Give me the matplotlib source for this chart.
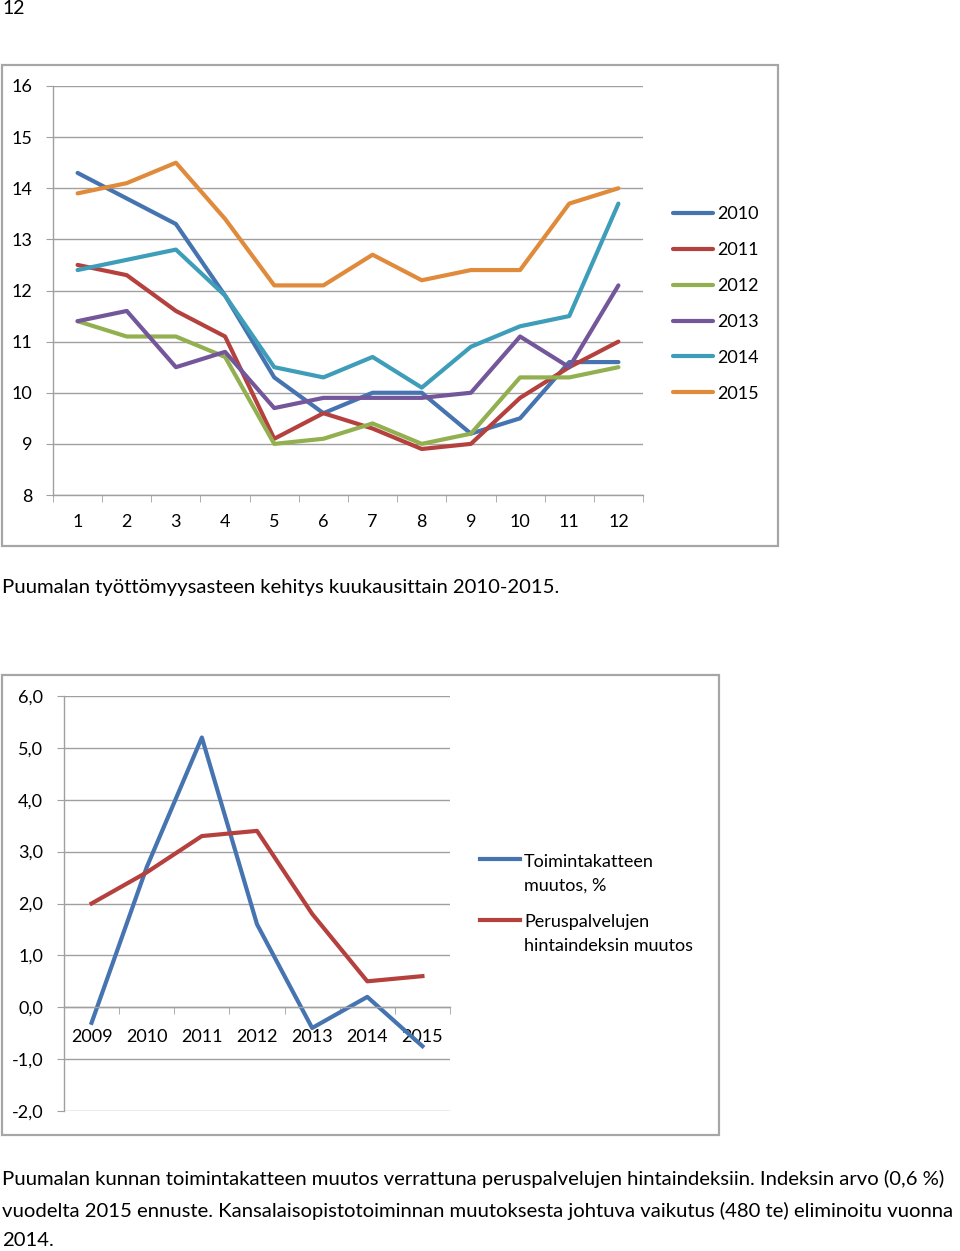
import matplotlib
matplotlib.use("Agg")
import matplotlib.pyplot as plt
from matplotlib.patches import Rectangle

# ── data ────────────────────────────────────────────────────────────
MONTHS = list(range(1, 13))
Y2010 = [14.3, 13.8, 13.3, 11.9, 10.3, 9.6, 10.0, 10.0, 9.2, 9.5, 10.6, 10.6]
Y2011 = [12.5, 12.3, 11.6, 11.1, 9.1, 9.6, 9.3, 8.9, 9.0, 9.9, 10.5, 11.0]
Y2012 = [11.4, 11.1, 11.1, 10.7, 9.0, 9.1, 9.4, 9.0, 9.2, 10.3, 10.3, 10.5]
Y2013 = [11.4, 11.6, 10.5, 10.8, 9.7, 9.9, 9.9, 9.9, 10.0, 11.1, 10.5, 12.1]
Y2014 = [12.4, 12.6, 12.8, 11.9, 10.5, 10.3, 10.7, 10.1, 10.9, 11.3, 11.5, 13.7]
Y2015 = [13.9, 14.1, 14.5, 13.4, 12.1, 12.1, 12.7, 12.2, 12.4, 12.4, 13.7, 14.0]
SERIES_LABELS = ["2010", "2011", "2012", "2013", "2014", "2015"]

YEARS = [2009, 2010, 2011, 2012, 2013, 2014, 2015]
TOIMINTAKATE = [-0.3, 2.7, 5.2, 1.6, -0.4, 0.2, -0.75]
HINTAINDEKSI = [2.0, 2.6, 3.3, 3.4, 1.8, 0.5, 0.6]

COLOURS = ["#4674B1", "#B5413E", "#92B050", "#73579A", "#3E9DB8", "#E08A3C"]
GRID = "#A0A0A0"
FRAME = "#A6A6A6"

W, H = 960, 1251
FONT = "Lato"
plt.rcParams["font.family"] = [FONT, "DejaVu Sans"]
TICK_FS = 13
CAP_FS = 14.6


def box(left, top, right, bottom):
    """pixel box -> figure fraction rect"""
    return [left / W, 1 - bottom / H, (right - left) / W, (bottom - top) / H]


def frame(fig, left, top, right, bottom):
    fig.patches.append(Rectangle((left / W, 1 - bottom / H), (right - left) / W,
                                 (bottom - top) / H, transform=fig.transFigure,
                                 fill=False, edgecolor=FRAME, lw=1.6))


def style_axes(ax):
    ax.tick_params(axis="x", which="major", length=0, labelsize=TICK_FS)
    ax.tick_params(axis="x", which="minor", length=5, color=GRID, direction="out")
    ax.tick_params(axis="y", length=5, color=GRID, pad=10, labelsize=TICK_FS)
    ax.grid(axis="y", color=GRID, lw=1)
    ax.set_axisbelow(True)
    for s in ["top", "right"]:
        ax.spines[s].set_visible(False)
    for s in ["left", "bottom"]:
        ax.spines[s].set_color(GRID)
        ax.spines[s].set_linewidth(1)


fig = plt.figure(figsize=(W / 100, H / 100), dpi=100, facecolor="white")

fig.text(2 / W, 1 - 9 / H, "12", fontsize=14, ha="left", va="center")

# ── chart 1 ─────────────────────────────────────────────────────────
frame(fig, 2, 65, 778, 546)
ax1 = fig.add_axes(box(53, 86, 643, 495))
for vals, lab, col in zip([Y2010, Y2011, Y2012, Y2013, Y2014, Y2015],
                          SERIES_LABELS, COLOURS):
    ax1.plot(MONTHS, vals, color=col, lw=3.0, label=lab, solid_capstyle="round")
ax1.set_xlim(0.5, 12.5)
ax1.set_ylim(8, 16)
ax1.set_yticks(range(8, 17))
ax1.set_xticks(MONTHS)
ax1.set_xticks([m + 0.5 for m in range(0, 13)], minor=True)
style_axes(ax1)
ax1.tick_params(axis="x", which="major", pad=14)
ax1.legend(loc="center left", bbox_to_anchor=(673 / W, 1 - 304 / H),
           bbox_transform=fig.transFigure, frameon=False, fontsize=TICK_FS,
           handlelength=2.2, handletextpad=0.25, labelspacing=1.1,
           borderpad=0, borderaxespad=0)

fig.text(2 / W, 1 - 587 / H,
         "Puumalan työttömyysasteen kehitys kuukausittain 2010-2015.",
         fontsize=CAP_FS, ha="left", va="center")

# ── chart 2 ─────────────────────────────────────────────────────────
frame(fig, 2, 675, 719, 1135)
ax2 = fig.add_axes(box(64, 696, 450, 1111))
ax2.plot(YEARS, TOIMINTAKATE, color=COLOURS[0], lw=3.0,
         label="Toimintakatteen\nmuutos, %")
ax2.plot(YEARS, HINTAINDEKSI, color=COLOURS[1], lw=3.0,
         label="Peruspalvelujen\nhintaindeksin muutos")
ax2.set_xlim(2008.5, 2015.5)
ax2.set_ylim(-2, 6)
ax2.set_yticks(range(-2, 7))
ax2.set_yticklabels([f"{v},0" for v in range(-2, 7)])
ax2.set_xticks(YEARS)
ax2.set_xticks([y + 0.5 for y in range(2008, 2016)], minor=True)
style_axes(ax2)
ax2.tick_params(axis="x", which="major", pad=16)
ax2.spines["bottom"].set_position(("data", 0))
leg2 = ax2.legend(loc="center left", bbox_to_anchor=(480 / W, 1 - 904 / H),
                  bbox_transform=fig.transFigure, frameon=False, fontsize=TICK_FS,
                  handlelength=2.2, handletextpad=0.25, labelspacing=1.15,
                  borderpad=0, borderaxespad=0)
for t in leg2.get_texts():
    t.set_linespacing(1.6)
# Excel puts the legend line next to the first text line
for h in leg2.legend_handles:
    h.set_ydata([y + 10.7 for y in h.get_ydata()])

caption = ("Puumalan kunnan toimintakatteen muutos verrattuna peruspalvelujen hintaindeksiin. Indeksin arvo (0,6 %)\n"
           "vuodelta 2015 ennuste. Kansalaisopistotoiminnan muutoksesta johtuva vaikutus (480 te) eliminoitu vuonna\n"
           "2014.")
fig.text(2 / W, 1 - 1170 / H, caption, fontsize=CAP_FS, ha="left", va="top",
         linespacing=1.9)

fig.savefig("out.png", dpi=100, facecolor="white")
